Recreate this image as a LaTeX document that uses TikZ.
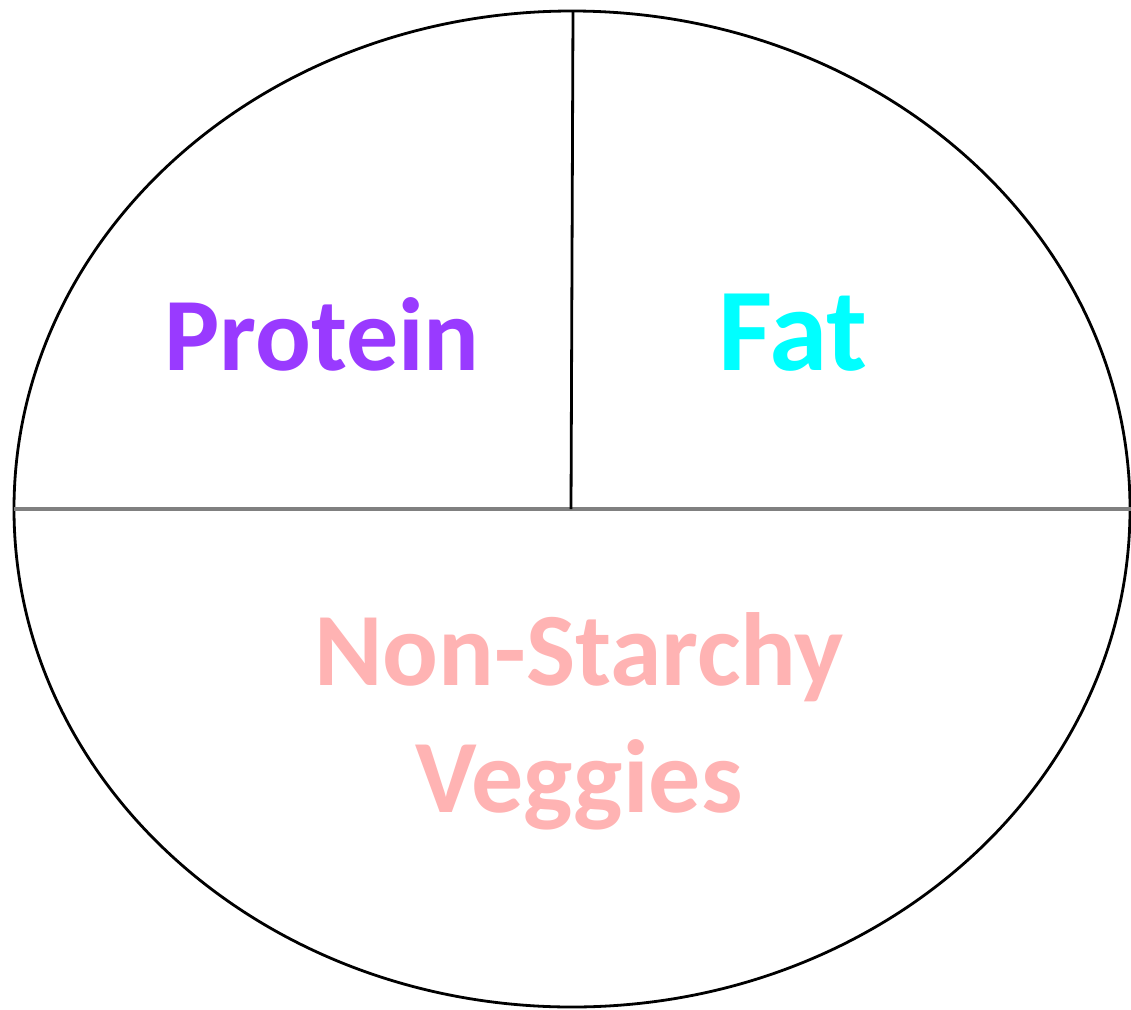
\documentclass[tikz,border=0pt]{standalone}
\usepackage{fontspec}
\setsansfont{Carlito}
\usetikzlibrary{positioning}

\definecolor{protcol}{RGB}{153,58,255}
\definecolor{fatcol}{RGB}{0,255,255}
\definecolor{vegcol}{RGB}{255,179,179}

\begin{document}
\begin{tikzpicture}[
  x=1pt, y=-1pt,
  font=\sffamily\bfseries,
  plate/.style={draw=black, line width=2.8pt},
  split/.style={draw=black!50, line width=3.2pt},
  mid/.style={draw=black, line width=2.8pt},
  lbl/.style={anchor=base, inner sep=0pt, align=center}
]
\useasboundingbox (0,0) rectangle (1131,1009);
\fill[white] (0,0) rectangle (1131,1009);

\draw[plate] (572,509) ellipse [x radius=558, y radius=498];
\coordinate (lft) at (14,509);
\coordinate (rgt) at (1131,509);
\coordinate (top) at (573,11);
\coordinate (ctr) at (571,509);
\draw[split] (lft) -- (rgt);
\draw[mid] (top) -- (ctr);

\node[lbl, text=protcol, font=\sffamily\bfseries\fontsize{104}{104}\selectfont] (prot) at (322,370) {Protein};
\node[lbl, text=fatcol, font=\sffamily\bfseries\fontsize{118}{118}\selectfont] (fat) at (793,370) {Fat};
\node[lbl, text=vegcol, font=\sffamily\bfseries\fontsize{104}{127}\selectfont] (veg) at (579,812) {Non-Starchy\\Veggies};
\end{tikzpicture}
\end{document}
